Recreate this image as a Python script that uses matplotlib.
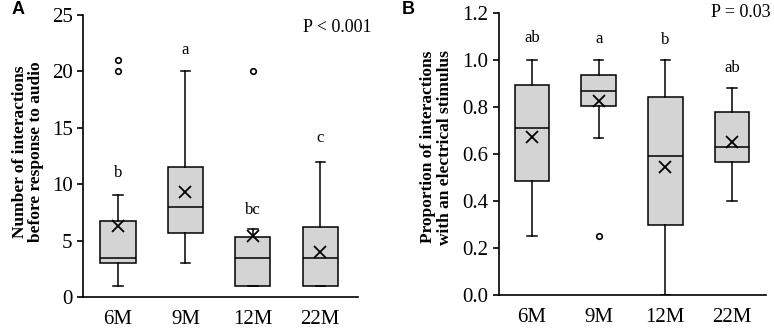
import numpy as np
import matplotlib
matplotlib.use('Agg')
import matplotlib.pyplot as plt

plt.rcParams['font.family'] = ['Liberation Serif', 'DejaVu Serif']

groups = ['6M', '9M', '12M', '22M']

# panel A: number of interactions before response to audio
a_low = [1, 3, 1, 1]
a_q1 = [3, 5.7, 1, 1]
a_med = [3.5, 8, 3.5, 3.5]
a_q3 = [6.75, 11.5, 5.3, 6.2]
a_high = [9, 20, 6, 12]
a_mean = [6.3, 9.3, 5.4, 4.0]
a_fliers = [[20, 21], [], [20], []]
a_letters = ['b', 'a', 'bc', 'c']
a_letter_y = [11.0, 21.9, 7.7, 14.1]

# panel B: proportion of interactions with an electrical stimulus
b_low = [0.25, 0.667, 0.0, 0.40]
b_q1 = [0.487, 0.805, 0.30, 0.565]
b_med = [0.71, 0.87, 0.59, 0.63]
b_q3 = [0.895, 0.935, 0.845, 0.78]
b_high = [1.0, 1.0, 1.0, 0.88]
b_mean = [0.675, 0.825, 0.545, 0.65]
b_fliers = [[], [0.25], [], []]
b_letters = ['ab', 'a', 'b', 'ab']
b_letter_y = [1.095, 1.09, 1.085, 0.965]


def make_stats(lo, q1, med, q3, hi, mean, fl):
    out = []
    for i in range(len(lo)):
        out.append(dict(whislo=lo[i], q1=q1[i], med=med[i], q3=q3[i],
                        whishi=hi[i], mean=mean[i], fliers=fl[i]))
    return out


def draw_box(ax, stats):
    pos = np.arange(1, len(stats) + 1)
    ax.bxp(stats, positions=pos, widths=0.52, capwidths=0.14,
           showmeans=True, patch_artist=True,
           boxprops=dict(facecolor='#d4d4d4', edgecolor='black', linewidth=1.1),
           medianprops=dict(color='black', linewidth=1.1),
           whiskerprops=dict(color='black', linewidth=1.1),
           capprops=dict(color='black', linewidth=1.1),
           meanprops=dict(marker='x', markeredgecolor='black', markersize=8,
                          markeredgewidth=1.3),
           flierprops=dict(marker='o', markerfacecolor='none',
                           markeredgecolor='black', markersize=4,
                           markeredgewidth=1.2))
    ax.spines['top'].set_visible(False)
    ax.spines['right'].set_visible(False)
    ax.spines['left'].set_linewidth(1.2)
    ax.spines['bottom'].set_linewidth(1.2)
    ax.set_xticks(pos)
    ax.set_xticklabels(groups, fontsize=15)
    ax.tick_params(axis='x', length=0, pad=9)
    ax.tick_params(axis='y', labelsize=15, length=4, width=1.2, direction='out')


fig = plt.figure(figsize=(7.74, 3.32), dpi=100)

axA = fig.add_axes([0.1072, 0.1054, 0.3553, 0.8494])
draw_box(axA, make_stats(a_low, a_q1, a_med, a_q3, a_high, a_mean, a_fliers))
axA.set_ylim(0, 25)
axA.set_xlim(0.48, 4.56)
axA.set_yticks([0, 5, 10, 15, 20, 25])
axA.set_ylabel('Number of interactions\nbefore response to audio',
               fontsize=12.5, fontweight='bold', linespacing=1.05)
axA.yaxis.set_label_coords(-0.14, 0.515)
for i, t in enumerate(a_letters):
    axA.text(i + 1, a_letter_y[i], t, ha='center', va='center', fontsize=12)
axA.text(4.25, 23.9, 'P < 0.001', ha='center', va='center', fontsize=13)

axB = fig.add_axes([0.6447, 0.1114, 0.345, 0.8486])
draw_box(axB, make_stats(b_low, b_q1, b_med, b_q3, b_high, b_mean, b_fliers))
axB.set_ylim(0, 1.2)
axB.set_xlim(0.505, 4.51)
axB.set_yticks(np.arange(0, 1.21, 0.2))
axB.set_yticklabels([f'{v:.1f}' for v in np.arange(0, 1.21, 0.2)])
axB.set_ylabel('Proportion of interactions\nwith an electrical stimulus',
               fontsize=12.5, fontweight='bold', linespacing=1.05)
axB.yaxis.set_label_coords(-0.172, 0.525)
for i, t in enumerate(b_letters):
    axB.text(i + 1, b_letter_y[i], t, ha='center', va='center', fontsize=12)
axB.text(4.13, 1.205, 'P = 0.03', ha='center', va='center', fontsize=13)

fig.text(0.0155, 0.97, 'A', fontsize=13, fontweight='bold', va='center',
         family=['Liberation Sans', 'DejaVu Sans'])
fig.text(0.519, 0.97, 'B', fontsize=13, fontweight='bold', va='center',
         family=['Liberation Sans', 'DejaVu Sans'])

fig.savefig('out.png', dpi=100)
